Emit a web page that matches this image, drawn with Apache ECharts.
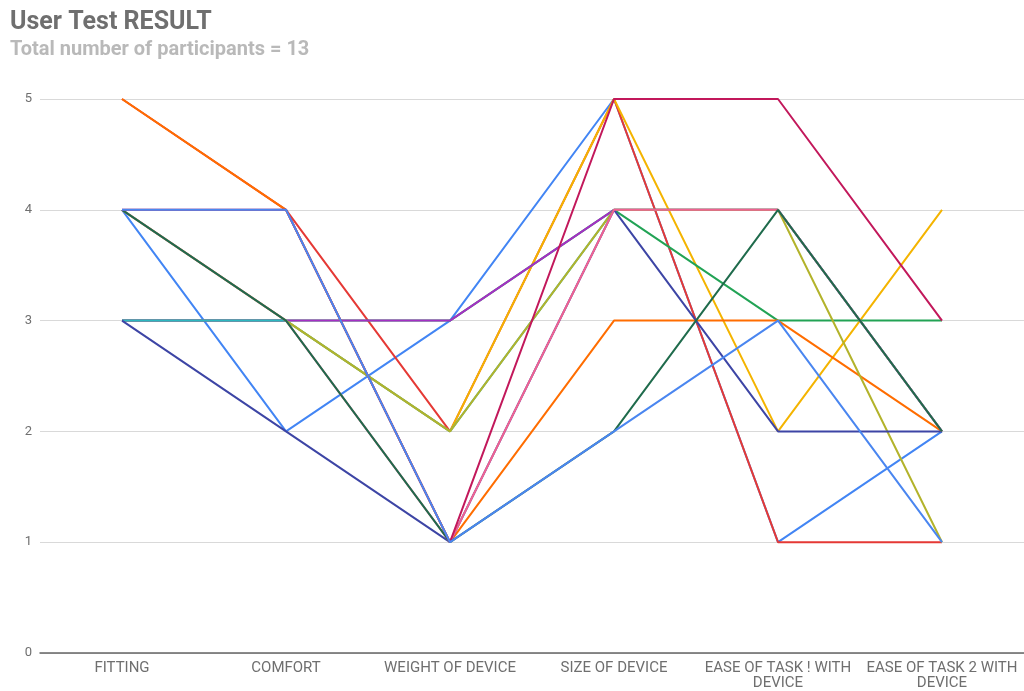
<!DOCTYPE html>
<html>
<head>
<meta charset="utf-8">
<title>User Test RESULT</title>
<script src="https://cdn.jsdelivr.net/npm/echarts@6/dist/echarts.min.js"></script>
<style>
  html, body { margin: 0; padding: 0; background: #ffffff; }
  #chart { width: 1024px; height: 691px; }
</style>
</head>
<body>
<div id="chart"></div>
<script>
// Questionnaire categories (x axis)
const categories = [
  'FITTING',
  'COMFORT',
  'WEIGHT OF DEVICE',
  'SIZE OF DEVICE',
  'EASE OF TASK ! WITH\nDEVICE',
  'EASE OF TASK 2 WITH\nDEVICE'
];

// Rating scale ticks
const yTicks = [0, 1, 2, 3, 4, 5];

// One score list per participant
const participant1  = [4, 2, 3, 5, 1, 2];
const participant2  = [5, 4, 2, 5, 1, 1];
const participant3  = [3, 3, 2, 5, 2, 4];
const participant4  = [3, 3, 3, 4, 3, 3];
const participant5  = [3, 3, 3, 4, 4, 2];
const participant6  = [3, 3, 2, 4, 4, 2];
const participant7  = [5, 4, 1, 3, 3, 2];
const participant8  = [4, 3, 2, 4, 4, 1];
const participant9  = [3, 2, 1, 4, 2, 2];
const participant10 = [4, 3, 1, 4, 4, 2];
const participant11 = [4, 3, 1, 2, 4, 2];
const participant12 = [4, 4, 1, 5, 5, 3];
const participant13 = [4, 4, 1, 2, 3, 1];

const participants = [
  participant1, participant2, participant3, participant4, participant5,
  participant6, participant7, participant8, participant9, participant10,
  participant11, participant12, participant13
];

const palette = [
  '#4285f4', '#e53935', '#f4b400', '#22a355', '#a52fc4', '#2cb8c0',
  '#ff6d00', '#b3b32b', '#3d45a5', '#f06292', '#1f6b4c', '#c2185b', '#4a86f0'
];

const chart = echarts.init(document.getElementById('chart'), null, { renderer: 'canvas' });

// Later participants are drawn on top of earlier ones
const series = participants.map((values, i) => ({
  name: 'Participant ' + (i + 1),
  type: 'line',
  data: values,
  symbol: 'none',
  z: 2 + i,
  lineStyle: { width: 2, color: palette[i] },
  itemStyle: { color: palette[i] },
  emphasis: { disabled: true },
  animation: false
}));

chart.setOption({
  animation: false,
  textStyle: { fontFamily: 'Roboto, "Noto Sans", sans-serif' },
  title: [
    {
      text: 'User Test RESULT',
      left: 10,
      top: 10,
      padding: 0,
      textStyle: { fontSize: 25, fontWeight: 'bold', color: '#6f6f6f', fontFamily: 'Roboto' }
    },
    {
      text: 'Total number of participants = 13',
      left: 10,
      top: 40,
      padding: 0,
      textStyle: { fontSize: 20, fontWeight: 'bold', color: '#b9b9b9', fontFamily: 'Roboto' }
    }
  ],
  grid: { left: 40, right: 0, top: 99, bottom: 36, containLabel: false },
  xAxis: {
    type: 'category',
    data: categories,
    boundaryGap: true,
    axisLine: { show: true, lineStyle: { color: '#666666', width: 1.5 } },
    axisTick: { show: false },
    axisLabel: {
      interval: 0,
      color: '#6f6f6f',
      fontSize: 15,
      fontFamily: 'Roboto',
      margin: 8,
      lineHeight: 15,
      align: 'center'
    },
    splitLine: { show: false }
  },
  yAxis: {
    type: 'value',
    min: yTicks[0],
    max: yTicks[yTicks.length - 1],
    interval: 1,
    axisLine: { show: false },
    axisTick: { show: false },
    axisLabel: { color: '#6f6f6f', fontSize: 13, fontFamily: 'Roboto', margin: 8 },
    splitLine: { show: true, lineStyle: { color: '#d9d9d9', width: 1 } }
  },
  series: series
});
</script>
</body>
</html>
